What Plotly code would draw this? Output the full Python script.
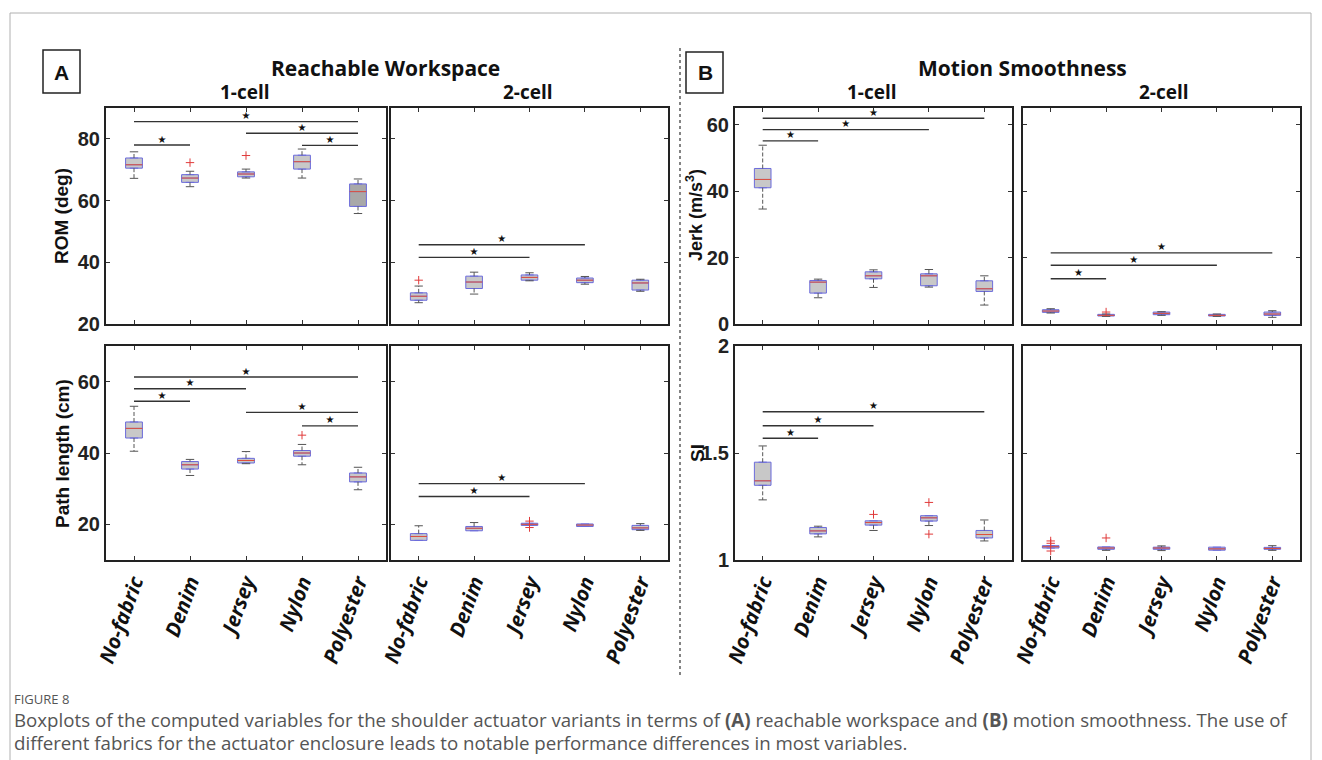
import plotly.graph_objects as go

# ---------------- data ----------------
categories = ["No-fabric", "Denim", "Jersey", "Nylon", "Polyester"]
positions = [1, 2, 3, 4, 5]

# (A) Reachable workspace - ROM (deg)
rom_1cell_q1 = [70.5, 65.9, 67.7, 70.2, 58.1]
rom_1cell_med = [71.6, 67.3, 68.6, 72.6, 62.9]
rom_1cell_q3 = [73.8, 68.4, 69.3, 74.7, 65.4]
rom_1cell_lo = [67.2, 64.5, 67.3, 67.3, 55.8]
rom_1cell_hi = [75.8, 69.5, 70.2, 76.7, 67.0]
rom_1cell_out = [[], [72.3], [74.6], [], []]
rom_1cell_sig = [(1, 5, 85.6), (3, 5, 81.8), (4, 5, 77.9), (1, 2, 78.0)]

rom_2cell_q1 = [27.7, 31.5, 34.2, 33.4, 31.0]
rom_2cell_med = [29.0, 33.6, 35.1, 34.2, 33.3]
rom_2cell_q3 = [30.1, 35.5, 35.9, 34.9, 34.2]
rom_2cell_lo = [26.9, 29.7, 34.0, 32.9, 30.6]
rom_2cell_hi = [32.3, 36.8, 36.6, 35.4, 34.5]
rom_2cell_out = [[34.2], [], [], [], []]
rom_2cell_sig = [(1, 4, 45.7), (1, 3, 41.6)]

# (A) Reachable workspace - Path length (cm)
path_1cell_q1 = [44.2, 35.5, 37.2, 39.1, 31.9]
path_1cell_med = [46.9, 36.7, 37.9, 40.0, 33.3]
path_1cell_q3 = [48.7, 37.6, 38.5, 40.7, 34.4]
path_1cell_lo = [40.5, 33.7, 37.0, 36.7, 29.7]
path_1cell_hi = [53.1, 38.2, 40.4, 42.4, 36.0]
path_1cell_out = [[], [], [], [45.0], []]
path_1cell_sig = [(1, 5, 61.3), (1, 3, 58.0), (1, 2, 54.5), (3, 5, 51.4), (4, 5, 47.6)]

path_2cell_q1 = [15.5, 18.2, 19.7, 19.4, 18.5]
path_2cell_med = [16.6, 18.9, 20.0, 19.8, 19.0]
path_2cell_q3 = [17.4, 19.4, 20.3, 20.1, 19.7]
path_2cell_lo = [15.5, 18.2, 19.7, 19.4, 18.3]
path_2cell_hi = [19.6, 20.5, 20.3, 20.1, 20.2]
path_2cell_out = [[], [], [20.9, 19.1], [], []]
path_2cell_sig = [(1, 4, 31.4), (1, 3, 27.8)]

# (B) Motion smoothness - Jerk (m/s^3)
jerk_1cell_q1 = [41.0, 9.3, 13.6, 11.5, 9.8]
jerk_1cell_med = [43.5, 12.6, 14.5, 14.5, 10.6]
jerk_1cell_q3 = [46.8, 13.1, 15.7, 15.1, 13.0]
jerk_1cell_lo = [34.6, 7.9, 11.0, 11.1, 5.7]
jerk_1cell_hi = [53.8, 13.5, 16.3, 16.4, 14.5]
jerk_1cell_out = [[], [], [], [], []]
jerk_1cell_sig = [(1, 5, 61.9), (1, 4, 58.5), (1, 2, 55.1)]

jerk_2cell_q1 = [3.5, 2.4, 2.8, 2.4, 2.6]
jerk_2cell_med = [3.9, 2.6, 3.2, 2.6, 3.0]
jerk_2cell_q3 = [4.3, 2.9, 3.6, 2.9, 3.6]
jerk_2cell_lo = [3.3, 2.3, 2.6, 2.3, 2.0]
jerk_2cell_hi = [4.6, 3.0, 3.7, 3.0, 4.0]
jerk_2cell_out = [[], [3.6], [], [], []]
jerk_2cell_sig = [(1, 5, 21.4), (1, 4, 17.7), (1, 2, 13.6)]

# (B) Motion smoothness - SI
si_1cell_q1 = [1.349, 1.122, 1.163, 1.182, 1.103]
si_1cell_med = [1.370, 1.136, 1.175, 1.197, 1.119]
si_1cell_q3 = [1.457, 1.152, 1.183, 1.207, 1.138]
si_1cell_lo = [1.281, 1.108, 1.138, 1.161, 1.089]
si_1cell_hi = [1.533, 1.158, 1.183, 1.207, 1.187]
si_1cell_out = [[], [], [1.213], [1.269, 1.121], []]
si_1cell_sig = [(1, 5, 1.693), (1, 3, 1.627), (1, 2, 1.569)]

si_2cell_q1 = [1.056, 1.050, 1.050, 1.046, 1.050]
si_2cell_med = [1.062, 1.056, 1.056, 1.052, 1.054]
si_2cell_q3 = [1.067, 1.061, 1.060, 1.060, 1.059]
si_2cell_lo = [1.056, 1.045, 1.044, 1.046, 1.045]
si_2cell_hi = [1.067, 1.061, 1.066, 1.060, 1.067]
si_2cell_out = [[1.089, 1.078, 1.042], [1.103], [], [], []]
si_2cell_sig = []

# y-axis ticks
rom_ticks = [20, 40, 60, 80]
path_ticks = [20, 40, 60]
jerk_ticks = [0, 20, 40, 60]
si_ticks = [1, 1.5, 2]

# ---------------- layout helpers ----------------
W, H = 1322, 760
PAGE_OFF = 8  # default body margin of the html page


def px(x):
    return (x - PAGE_OFF) / W


def py(y):
    return 1 - (y - PAGE_OFF) / H


BOX_FILL = "#c8c8c8"
BOX_LINE = "#6b6bdb"
MED_COL = "#e0503a"
WHISK_COL = "#555555"
OUT_COL = "#e03a3a"
SIG_COL = "#333333"
BOX_W = 0.3
CAP_HW = 0.075

panels = [
    (rom_1cell_q1, rom_1cell_med, rom_1cell_q3, rom_1cell_lo, rom_1cell_hi, rom_1cell_out, rom_1cell_sig,
     (106, 386), (108, 324), (20, 90), rom_ticks, True, False),
    (rom_2cell_q1, rom_2cell_med, rom_2cell_q3, rom_2cell_lo, rom_2cell_hi, rom_2cell_out, rom_2cell_sig,
     (391, 668), (108, 324), (20, 90), rom_ticks, False, False),
    (path_1cell_q1, path_1cell_med, path_1cell_q3, path_1cell_lo, path_1cell_hi, path_1cell_out, path_1cell_sig,
     (106, 386), (346, 560), (10, 70), path_ticks, True, True),
    (path_2cell_q1, path_2cell_med, path_2cell_q3, path_2cell_lo, path_2cell_hi, path_2cell_out, path_2cell_sig,
     (391, 668), (346, 560), (10, 70), path_ticks, False, True),
    (jerk_1cell_q1, jerk_1cell_med, jerk_1cell_q3, jerk_1cell_lo, jerk_1cell_hi, jerk_1cell_out, jerk_1cell_sig,
     (735, 1012), (108, 324), (0, 65), jerk_ticks, True, False),
    (jerk_2cell_q1, jerk_2cell_med, jerk_2cell_q3, jerk_2cell_lo, jerk_2cell_hi, jerk_2cell_out, jerk_2cell_sig,
     (1023, 1300), (108, 324), (0, 65), jerk_ticks, False, False),
    (si_1cell_q1, si_1cell_med, si_1cell_q3, si_1cell_lo, si_1cell_hi, si_1cell_out, si_1cell_sig,
     (735, 1012), (346, 560), (1, 2), si_ticks, True, True),
    (si_2cell_q1, si_2cell_med, si_2cell_q3, si_2cell_lo, si_2cell_hi, si_2cell_out, si_2cell_sig,
     (1023, 1300), (346, 560), (1, 2), si_ticks, False, True),
]

fill_override = {(0, 4): "#a8a8a8"}

fig = go.Figure()
layout_axes = {}

for k, (q1, med, q3, lo, hi, out, sig, xd, yd, yr, yt, ylab, xlab) in enumerate(panels):
    n = k + 1
    xa = "x" if n == 1 else f"x{n}"
    ya = "y" if n == 1 else f"y{n}"
    xkey = "xaxis" if n == 1 else f"xaxis{n}"
    ykey = "yaxis" if n == 1 else f"yaxis{n}"

    for i, p in enumerate(positions):
        fig.add_trace(go.Box(
            x=[p], q1=[q1[i]], median=[med[i]], q3=[q3[i]],
            lowerfence=[q1[i]], upperfence=[q3[i]],
            width=BOX_W, fillcolor=fill_override.get((k, i), BOX_FILL),
            line=dict(color=BOX_LINE, width=1), boxpoints=False,
            xaxis=xa, yaxis=ya, showlegend=False, hoverinfo="skip"))

    wx, wy = [], []
    for i, p in enumerate(positions):
        wx += [p, p, None, p, p, None]
        wy += [q3[i], hi[i], None, q1[i], lo[i], None]
    fig.add_trace(go.Scatter(x=wx, y=wy, mode="lines",
                             line=dict(color=WHISK_COL, width=1, dash="4px,2px"),
                             xaxis=xa, yaxis=ya, showlegend=False, hoverinfo="skip"))
    cx, cy = [], []
    for i, p in enumerate(positions):
        if hi[i] > q3[i]:
            cx += [p - CAP_HW, p + CAP_HW, None]
            cy += [hi[i], hi[i], None]
        if lo[i] < q1[i]:
            cx += [p - CAP_HW, p + CAP_HW, None]
            cy += [lo[i], lo[i], None]
    fig.add_trace(go.Scatter(x=cx, y=cy, mode="lines",
                             line=dict(color=WHISK_COL, width=1),
                             xaxis=xa, yaxis=ya, showlegend=False, hoverinfo="skip"))

    mx, my = [], []
    for i, p in enumerate(positions):
        mx += [p - BOX_W / 2, p + BOX_W / 2, None]
        my += [med[i], med[i], None]
    fig.add_trace(go.Scatter(x=mx, y=my, mode="lines",
                             line=dict(color=MED_COL, width=1),
                             xaxis=xa, yaxis=ya, showlegend=False, hoverinfo="skip"))

    ox, oy = [], []
    for i, p in enumerate(positions):
        for v in out[i]:
            ox.append(p)
            oy.append(v)
    if ox:
        fig.add_trace(go.Scatter(x=ox, y=oy, mode="markers",
                                 marker=dict(symbol="cross-thin", size=6,
                                             line=dict(color=OUT_COL, width=1)),
                                 xaxis=xa, yaxis=ya, showlegend=False, hoverinfo="skip"))

    for (a, b, h) in sig:
        fig.add_trace(go.Scatter(x=[a, b], y=[h, h], mode="lines",
                                 line=dict(color=SIG_COL, width=1.4),
                                 xaxis=xa, yaxis=ya, showlegend=False, hoverinfo="skip"))
        fig.add_trace(go.Scatter(x=[(a + b) / 2], y=[h], mode="text", text=["★"],
                                 textposition="top center",
                                 textfont=dict(size=10, color="#111111", family="DejaVu Sans"),
                                 xaxis=xa, yaxis=ya, showlegend=False, hoverinfo="skip"))

    layout_axes[xkey] = dict(
        domain=[px(xd[0]), px(xd[1])], anchor=ya, range=[0.5, 5.5],
        tickmode="array", tickvals=positions, ticktext=categories,
        showticklabels=xlab, tickangle=-70, automargin=False,
        tickfont=dict(family="Open Sans", size=20.5, color="#111111", weight="bold", style="italic"),
        ticks="inside", ticklen=4, tickwidth=1, tickcolor="#333333",
        mirror="ticks", showline=True, linecolor="#222222", linewidth=2,
        showgrid=False, zeroline=False, fixedrange=True)
    layout_axes[ykey] = dict(
        domain=[py(yd[1]), py(yd[0])], anchor=xa, range=list(yr),
        tickmode="array", tickvals=yt, ticktext=[f"{v:g}" for v in yt],
        showticklabels=ylab, automargin=False,
        tickfont=dict(family="Arial", size=20, color="#222222", weight="bold"),
        ticks="inside", ticklen=4, tickwidth=1, tickcolor="#333333",
        mirror="ticks", showline=True, linecolor="#222222", linewidth=2,
        showgrid=False, zeroline=False, fixedrange=True)

annotations = []


def ann(text, x, y, size, family="Open Sans", bold=True, angle=0, xanchor="center", color="#111111"):
    annotations.append(dict(
        text=text, x=px(x), y=py(y), xref="paper", yref="paper",
        xanchor=xanchor, yanchor="middle", showarrow=False, textangle=angle,
        font=dict(family=family, size=size, color=color, weight="bold" if bold else "normal")))


ann("Reachable Workspace", 385, 68, 21)
ann("1-cell", 245, 92, 19)
ann("2-cell", 528, 92, 19)
ann("Motion Smoothness", 1022, 68, 21)
ann("1-cell", 872, 92, 19)
ann("2-cell", 1164, 92, 19)
ann("A", 61.5, 72, 21, family="Arial")
ann("B", 705, 72, 21, family="Arial")
ann("ROM (deg)", 62, 216, 19, family="Arial", angle=-90)
ann("Path length (cm)", 62, 453, 19, family="Arial", angle=-90)
ann("Jerk (m/s<sup>3</sup>)", 694, 215, 18, family="Arial", angle=-90)
ann("SI", 697, 453, 19, family="Arial", angle=-90)

ann("FIGURE 8", 12, 699, 13, family="Open Sans", bold=False, xanchor="left", color="#555555")
ann("Boxplots of the computed variables for the shoulder actuator variants in terms of <b>(A)</b> "
    "reachable workspace and <b>(B)</b> motion smoothness. The use of",
    12, 719, 18.7, family="Open Sans", bold=False, xanchor="left", color="#555555")
ann("different fabrics for the actuator enclosure leads to notable performance differences in most variables.",
    12, 742, 18.7, family="Open Sans", bold=False, xanchor="left", color="#555555")

shapes = [
    dict(type="rect", xref="paper", yref="paper", x0=px(10), x1=px(1311), y0=py(790), y1=py(13),
         line=dict(color="#b0b0b0", width=1), fillcolor="rgba(0,0,0,0)", layer="below"),
    dict(type="rect", xref="paper", yref="paper", x0=px(43), x1=px(80), y0=py(93), y1=py(50),
         line=dict(color="#222222", width=1.5)),
    dict(type="rect", xref="paper", yref="paper", x0=px(686), x1=px(723), y0=py(93), y1=py(52),
         line=dict(color="#222222", width=1.5)),
    dict(type="line", xref="paper", yref="paper", x0=px(680), x1=px(680), y0=py(675), y1=py(45),
         line=dict(color="#333333", width=1.2, dash="dot")),
]

fig.update_layout(
    width=W, height=H, autosize=False,
    margin=dict(l=0, r=0, t=0, b=0, autoexpand=False),
    paper_bgcolor="white", plot_bgcolor="white",
    showlegend=False, boxmode="overlay",
    annotations=annotations, shapes=shapes,
    **layout_axes)

fig.write_html("out.html")
